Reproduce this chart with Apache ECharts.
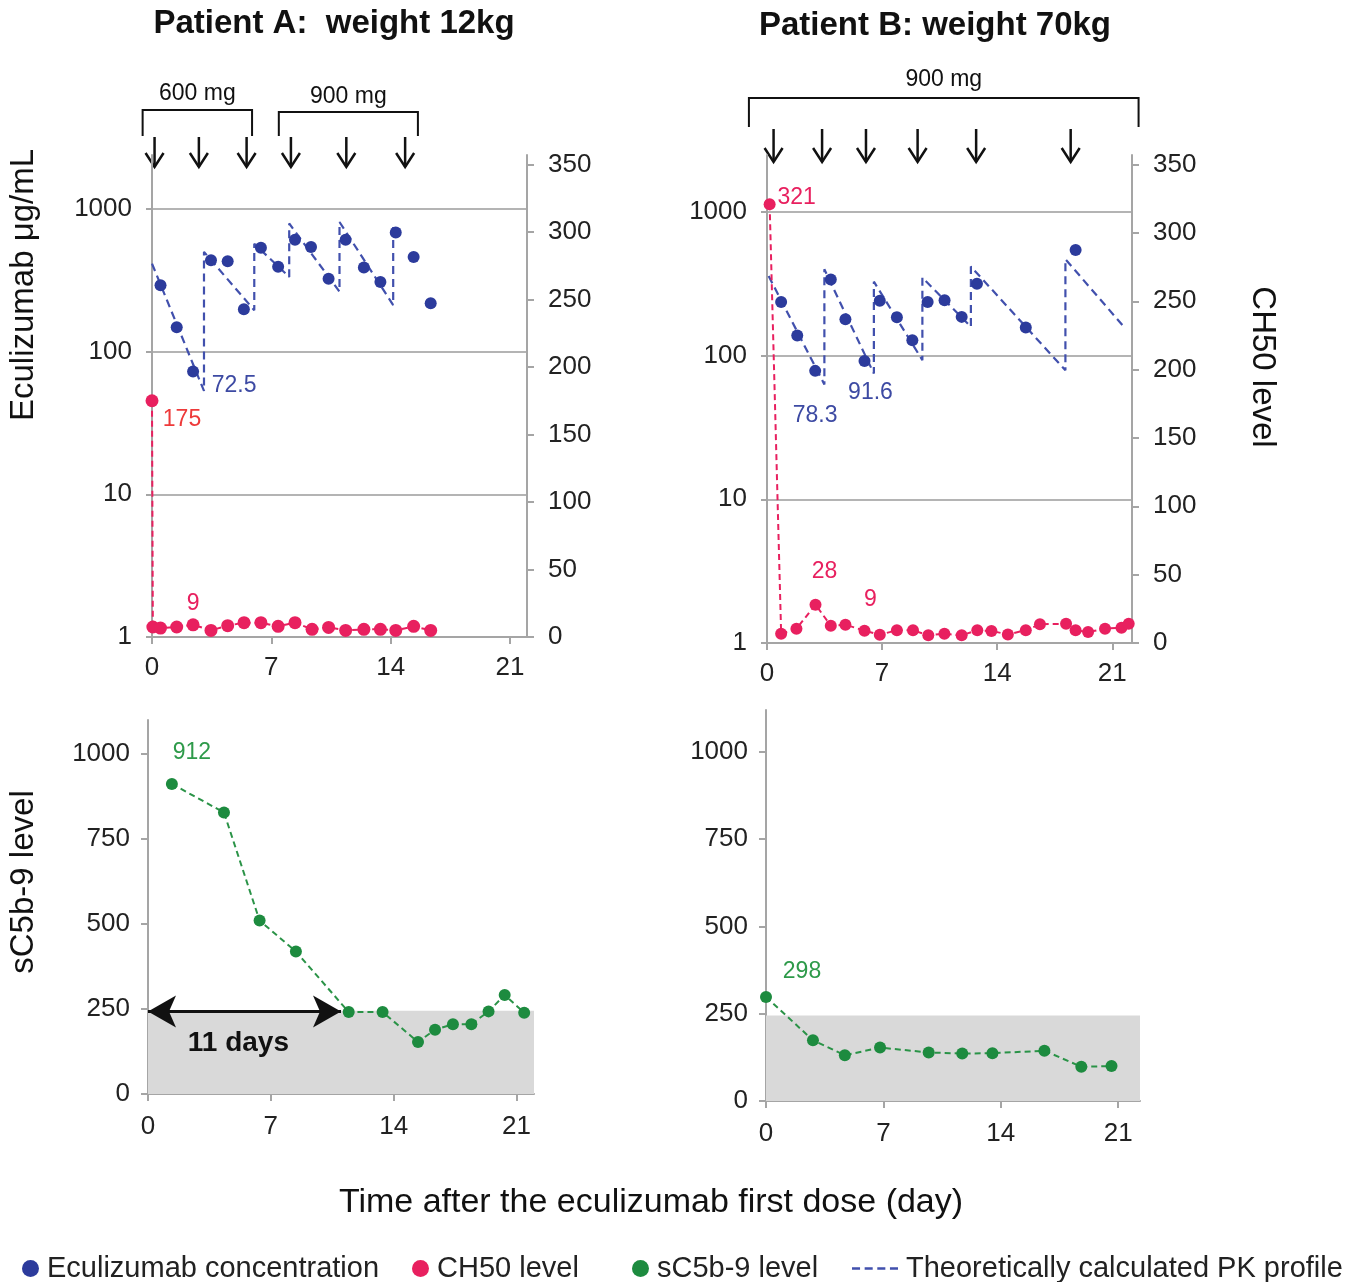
<!DOCTYPE html>
<html>
<head>
<meta charset="utf-8">
<script src="https://cdn.jsdelivr.net/npm/echarts@6/dist/echarts.min.js"></script>
<style>
  html, body { margin: 0; background: #fff; }
  #chart { width: 1363px; height: 1282px; }
</style>
</head>
<body>
<div id="chart"></div>
<script>
// ---- values (day after first dose / level) ----
// Patient A (12 kg)
const ecuA_day = [0.5, 1.45, 2.41, 3.46, 4.44, 5.39, 6.39, 7.4, 8.39, 9.33, 10.36, 11.36, 12.43, 13.4, 14.3, 15.35, 16.35]
const ecuA_val = [292, 148, 72.5, 437, 430, 198, 535, 393, 608, 541, 324, 608, 389, 307, 684, 461, 218]
const pkA_day = [0, 3.05, 3.05, 6.0, 6.0, 8.05, 8.05, 11.0, 11.0, 14.15, 14.15]
const pkA_val = [414, 53, 500, 195, 570, 334, 790, 263, 810, 212, 790]
const ch50A_day = [0, 0.05, 0.5, 1.45, 2.41, 3.46, 4.44, 5.4, 6.39, 7.4, 8.39, 9.39, 10.36, 11.36, 12.43, 13.4, 14.3, 15.35, 16.35]
const ch50A_val = [175, 7.4, 6.6, 7.4, 9, 4.9, 8.4, 10.6, 10.6, 7.9, 10.6, 5.7, 7.1, 4.9, 5.7, 5.7, 4.9, 7.9, 4.9]
const sc5A_day = [1.36, 4.33, 6.36, 8.43, 11.44, 13.37, 15.39, 16.36, 17.38, 18.43, 19.41, 20.33, 21.44]
const sc5A_val = [912, 828, 510, 419, 241, 241, 153, 189, 205, 205, 243, 291, 239]
const doseA_day = [0.15, 2.75, 5.55, 8.15, 11.4, 14.85]

// Patient B (70 kg)
const ecuB_day = [0.86, 1.84, 2.93, 3.88, 4.77, 5.93, 6.86, 7.9, 8.84, 9.77, 10.8, 11.84, 12.77, 15.74, 18.77]
const ecuB_val = [236, 138, 78.3, 339, 179, 91.6, 241, 185, 128, 236, 243, 186, 316, 157, 543]
const pkB_day = [0.1, 3.49, 3.49, 6.5, 6.5, 9.45, 9.45, 12.4, 12.4, 18.15, 18.15, 21.7]
const pkB_val = [358, 63, 399, 75, 327, 93, 349, 159, 417, 79, 469, 159]
const ch50B_day = [0.16, 0.86, 1.79, 2.95, 3.88, 4.77, 5.93, 6.86, 7.9, 8.88, 9.81, 10.79, 11.84, 12.79, 13.65, 14.65, 15.74, 16.6, 18.19, 18.77, 19.53, 20.56, 21.56, 22.0]
const ch50B_val = [321, 6.8, 10.5, 28, 12.7, 13.4, 9, 6.1, 9.3, 9.3, 5.6, 6.8, 5.6, 9.3, 8.8, 6.3, 9.3, 13.7, 14.1, 9.3, 8.0, 10.5, 11.2, 14.1]
const sc5B_day = [0, 2.8, 4.7, 6.8, 9.7, 11.7, 13.5, 16.6, 18.8, 20.6]
const sc5B_val = [298, 174, 131, 153, 139, 136, 137, 144, 98, 100]
const doseB_day = [0.4, 3.35, 6.02, 9.16, 12.72, 18.47]

const normalRange = [0, 245]      // grey band for sC5b-9
const elevatedSpan = [0, 11]      // "11 days"

const FONT = 'Liberation Sans, Arial, sans-serif'
const BLUE = '#2c3b9c'
const PKBLUE = '#4150ad'
const PINK = '#e8205f'
const GREEN = '#1d8b3f'
const AXIS = '#a5a5a5'
const TXT = '#222'

function zip(d, v) {
  return d.map((x, i) => [x, v[i]])
}
// attach a value label to some points; offsets are [dx, dy] from the point centre
function withLabels(d, v, tags) {
  return zip(d, v).map((p, i) => {
    if (!tags[i]) return p
    return {
      value: p,
      label: {
        show: true, position: 'inside', offset: tags[i].off,
        formatter: String(v[i]), color: tags[i].color, fontSize: 23, fontFamily: FONT
      }
    }
  })
}

const chart = echarts.init(document.getElementById('chart'))

function xAxisOf(grid, max, margin) {
  return {
    type: 'value', gridIndex: grid, min: 0, max: max, interval: 7,
    axisLine: { show: true, lineStyle: { color: AXIS, width: 2 } },
    axisTick: { show: true, length: 7, lineStyle: { color: AXIS, width: 2 } },
    axisLabel: { fontSize: 26, color: TXT, margin: margin, showMaxLabel: false, fontFamily: FONT },
    splitLine: { show: false }
  }
}
function logAxisOf(grid, max) {
  return {
    type: 'log', logBase: 10, gridIndex: grid, min: 1, max: max, position: 'left',
    axisLine: { show: true, lineStyle: { color: AXIS, width: 2 } },
    axisTick: { show: true, length: 6, lineStyle: { color: AXIS, width: 2 } },
    axisLabel: { fontSize: 26, color: TXT, margin: 20, showMaxLabel: false, fontFamily: FONT,
      formatter: v => String(Math.round(v)) },
    splitLine: { show: true, showMinLine: false, showMaxLine: false, lineStyle: { color: '#b4b4b4', width: 2 } }
  }
}
function rightAxisOf(grid, max) {
  return {
    type: 'value', gridIndex: grid, min: 0, max: max, interval: 50, position: 'right',
    axisLine: { show: true, lineStyle: { color: AXIS, width: 2 } },
    axisTick: { show: true, length: 7, lineStyle: { color: AXIS, width: 2 } },
    axisLabel: { fontSize: 26, color: TXT, margin: 21, showMaxLabel: false, fontFamily: FONT },
    splitLine: { show: false }
  }
}
function sc5AxisOf(grid, max) {
  return {
    type: 'value', gridIndex: grid, min: 0, max: max, interval: 250,
    axisLine: { show: true, lineStyle: { color: AXIS, width: 2 } },
    axisTick: { show: true, length: 7, lineStyle: { color: AXIS, width: 2 } },
    axisLabel: { fontSize: 26, color: TXT, margin: 18, showMaxLabel: false, fontFamily: FONT,
      formatter: v => String(v) },
    splitLine: { show: false }
  }
}

const dot = (color, size) => ({ symbol: 'circle', symbolSize: size, itemStyle: { color: color, opacity: 1 } })

const option = {
  animation: false,
  backgroundColor: '#fff',
  textStyle: { fontFamily: FONT },
  grid: [
    { left: 152, top: 155, width: 375, height: 482 },
    { left: 767, top: 155, width: 365, height: 488 },
    { left: 148, top: 720, width: 386, height: 374 },
    { left: 766, top: 710, width: 374, height: 391 }
  ],
  xAxis: [xAxisOf(0, 22, 18), xAxisOf(1, 22.2, 18), xAxisOf(2, 22, 20), xAxisOf(3, 22.3, 20)],
  yAxis: [
    logAxisOf(0, 2387), rightAxisOf(0, 357),
    logAxisOf(1, 2489), rightAxisOf(1, 357),
    sc5AxisOf(2, 1100), sc5AxisOf(3, 1120)
  ],
  legend: [
    { data: [{ name: 'Eculizumab concentration', icon: 'circle' }], left: 17, top: 1249 },
    { data: [{ name: 'CH50 level', icon: 'circle' }], left: 407, top: 1249 },
    { data: [{ name: 'sC5b-9 level', icon: 'circle' }], left: 627, top: 1249 },
    { data: [{ name: 'Theoretically calculated PK profile',
        icon: 'path://M0,0h7v2h-7z M11,0h7v2h-7z M22,0h7v2h-7z M33,0h7v2h-7z' }],
      left: 847, top: 1249, itemWidth: 46, itemHeight: 3 }
  ].map(l => Object.assign({
    itemWidth: 17, itemHeight: 17, selectedMode: false,
    textStyle: { fontSize: 29, color: TXT, fontFamily: FONT, padding: [0, 0, 0, 3] }
  }, l)),
  series: [
    // ---- Patient A top ----
    {
      name: 'Theoretically calculated PK profile', type: 'line', xAxisIndex: 0, yAxisIndex: 0,
      data: zip(pkA_day, pkA_val), showSymbol: false, symbol: 'none', color: PKBLUE,
      lineStyle: { color: PKBLUE, width: 2.2, type: [8, 5] }, z: 2
    },
    Object.assign({
      name: 'Eculizumab concentration', type: 'scatter', xAxisIndex: 0, yAxisIndex: 0,
      data: withLabels(ecuA_day, ecuA_val, { 2: { off: [41, 14], color: '#3d4aa3' } }), z: 3
    }, dot(BLUE, 12)),
    Object.assign({
      name: 'CH50 level', type: 'line', xAxisIndex: 0, yAxisIndex: 1,
      data: withLabels(ch50A_day, ch50A_val, {
        0: { off: [30, 19], color: '#ee3a3a' },
        4: { off: [0, -21], color: PINK }
      }),
      lineStyle: { color: PINK, width: 2, type: [6, 4] }, z: 3
    }, dot(PINK, 13)),
    // ---- Patient B top ----
    {
      name: 'Theoretically calculated PK profile', type: 'line', xAxisIndex: 1, yAxisIndex: 2,
      data: zip(pkB_day, pkB_val), showSymbol: false, symbol: 'none', color: PKBLUE,
      lineStyle: { color: PKBLUE, width: 2.2, type: [8, 5] }, z: 2
    },
    Object.assign({
      name: 'Eculizumab concentration', type: 'scatter', xAxisIndex: 1, yAxisIndex: 2,
      data: withLabels(ecuB_day, ecuB_val, {
        2: { off: [0, 45], color: '#3d4aa3' },
        5: { off: [6, 32], color: '#3d4aa3' }
      }), z: 3
    }, dot(BLUE, 12)),
    Object.assign({
      name: 'CH50 level', type: 'line', xAxisIndex: 1, yAxisIndex: 3,
      data: withLabels(ch50B_day, ch50B_val, {
        0: { off: [27, -7], color: PINK },
        3: { off: [9, -33], color: PINK },
        6: { off: [6, -31], color: PINK }
      }),
      lineStyle: { color: PINK, width: 2, type: [6, 4] }, z: 3
    }, dot(PINK, 12)),
    // ---- Patient A bottom ----
    Object.assign({
      name: 'sC5b-9 level', type: 'line', xAxisIndex: 2, yAxisIndex: 4,
      data: withLabels(sc5A_day, sc5A_val, { 0: { off: [20, -31], color: '#2e9a4a' } }),
      lineStyle: { color: '#2a9347', width: 2, type: [6, 4] }, z: 3,
      markArea: {
        silent: true, itemStyle: { color: '#d9d9d9' },
        data: [[{ coord: [0, normalRange[0]] }, { coord: [22, normalRange[1]] }]]
      },
      markLine: {
        silent: true, symbol: ['arrow', 'arrow'], symbolSize: [24, 28],
        lineStyle: { color: '#111', width: 3, type: 'solid' }, label: { show: false },
        itemStyle: { color: '#111' },
        data: [[{ coord: [elevatedSpan[0], 243] }, { coord: [elevatedSpan[1], 243] }]]
      },
      markPoint: {
        silent: true, symbol: 'rect', symbolSize: 1, itemStyle: { color: 'rgba(0,0,0,0)' },
        label: { show: true, position: 'inside', formatter: '11 days', fontSize: 28, fontWeight: 'bold', color: '#111' },
        data: [{ coord: [5.15, 150] }]
      }
    }, dot(GREEN, 12)),
    // ---- Patient B bottom ----
    Object.assign({
      name: 'sC5b-9 level', type: 'line', xAxisIndex: 3, yAxisIndex: 5,
      data: withLabels(sc5B_day, sc5B_val, { 0: { off: [36, -25], color: '#2e9a4a' } }),
      lineStyle: { color: '#2a9347', width: 2, type: [6, 4] }, z: 3,
      markArea: {
        silent: true, itemStyle: { color: '#d9d9d9' },
        data: [[{ coord: [0, normalRange[0]] }, { coord: [22.3, normalRange[1]] }]]
      }
    }, dot(GREEN, 12))
  ]
}

chart.setOption(option)

// ---- annotations: titles, axis names, dosing brackets and arrows ----
const g = []
function text(t, x, y, size, opts) {
  g.push(Object.assign({
    type: 'text', x: x, y: y,
    style: Object.assign({ text: t, fontSize: size, fontFamily: FONT, fill: '#111', align: 'center', verticalAlign: 'middle' }, opts || {})
  }, (opts && opts.rot) ? { rotation: opts.rot } : {}))
}
text('Patient A:  weight 12kg', 334, 24, 33, { fontWeight: 'bold' })
text('Patient B: weight 70kg', 935, 26, 33, { fontWeight: 'bold' })
text('Eculizumab μg/mL', 24, 285, 33, { rot: Math.PI / 2 })
text('CH50 level', 1262, 367, 33, { rot: -Math.PI / 2 })
text('sC5b-9 level', 24, 882, 33, { rot: Math.PI / 2 })
text('Time after the eculizumab first dose (day)', 651, 1203, 34)

const px = (axis, d) => chart.convertToPixel({ xAxisIndex: axis }, d)

function bracket(axis, d0, d1, top, bottom, label, labelY) {
  const x0 = px(axis, d0), x1 = px(axis, d1)
  g.push({ type: 'polyline', shape: { points: [[x0, bottom], [x0, top], [x1, top], [x1, bottom]] },
    style: { stroke: '#111', lineWidth: 2, fill: null } })
  text(label, (x0 + x1) / 2, labelY, 23)
}
function arrows(axis, days, top, tip) {
  days.forEach(d => {
    const x = px(axis, d)
    g.push({ type: 'polyline', shape: { points: [[x, top], [x, tip]] }, style: { stroke: '#111', lineWidth: 2.5 } })
    g.push({ type: 'polyline', shape: { points: [[x - 9, tip - 14], [x, tip], [x + 9, tip - 14]] },
      style: { stroke: '#111', lineWidth: 2.5, fill: null } })
  })
}
bracket(0, -0.55, 5.87, 110, 136, '600 mg', 94)
bracket(0, 7.44, 15.6, 112, 136, '900 mg', 97)
arrows(0, doseA_day, 137, 167)
bracket(1, -1.1, 22.6, 98, 127, '900 mg', 80)
arrows(1, doseB_day, 129, 162)

chart.setOption({ graphic: { elements: g } })
</script>
</body>
</html>
